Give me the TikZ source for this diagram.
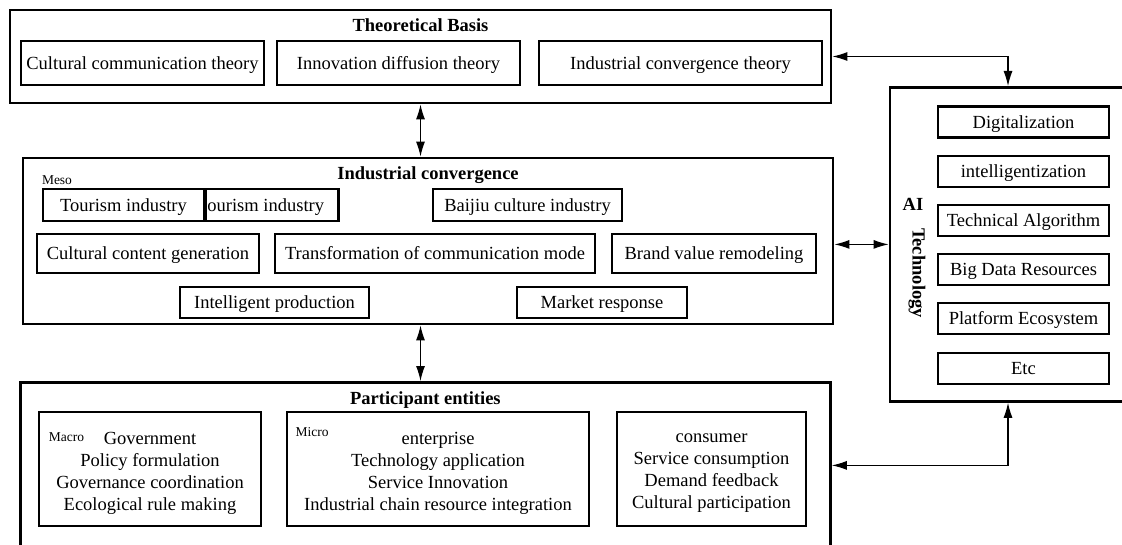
\documentclass[tikz,border=0pt]{standalone}
\usepackage{fontspec}
\setmainfont{Liberation Serif}
\usetikzlibrary{arrows.meta}

\begin{document}
\begin{tikzpicture}[auto, align=center, x=1pt, y=-1pt, >={Latex[length=15pt,width=9pt]}]

%local definitions
\tikzstyle{Frame} = [draw, line width=2.8pt, rectangle, inner sep=0pt]
\tikzstyle{Item} = [draw, fill=white, line width=2.8pt, rectangle, inner sep=2pt, text height=12.5pt, text depth=0.3pt, font=\fontsize{18.5}{22}\selectfont]
\tikzstyle{EntityBox} = [draw, line width=2.8pt, rectangle, minimum height=114pt]
\tikzstyle{EntityText} = [inner sep=0pt, font=\fontsize{18.5}{22}\selectfont]
\tikzstyle{Title} = [font=\fontsize{18.5}{22}\selectfont\bfseries, inner sep=0pt]
\tikzstyle{Level} = [font=\fontsize{13.5}{15}\selectfont, inner sep=0pt]
\tikzstyle{Link} = [<->, line width=1.1pt]

\useasboundingbox (0,0) rectangle (1122,545);
\clip (0,0) rectangle (1122,545);

%board components
	\node [Frame, minimum width=821pt, minimum height=93pt] (TheoryBasis) at (420.5,56.5) {};
	\node [Title, anchor=base] (TheoryTitle) at ([yshift=-22.5pt]TheoryBasis.north) {Theoretical Basis};
	\node [Item, minimum width=243pt, minimum height=44pt] (CommTheory) at (142.5,63) {Cultural communication theory};
	\node [Item, minimum width=243pt, minimum height=44pt] (DiffTheory) at (398.5,63) {Innovation diffusion theory};
	\node [Item, minimum width=283pt, minimum height=44pt] (ConvTheory) at (680.5,63) {Industrial convergence theory};

	\node [Frame, minimum width=810pt, minimum height=166pt] (Convergence) at (428,241) {};
	\node [Title, anchor=base] (ConvTitle) at ([yshift=-23pt]Convergence.north) {Industrial convergence};
	\node [Level] (MesoLabel) at (57,180) {Meso};
	\node [Item, anchor=west, text width=129pt, align=flush left, minimum height=32pt] (TourismB) at (204,205) {ourism industry};
	\node [Item, minimum width=161pt, minimum height=32pt] (TourismA) at (123.5,205) {Tourism industry};
	\node [Item, minimum width=189pt, minimum height=32pt] (Baijiu) at (527.5,205) {Baijiu culture industry};
	\node [Item, minimum width=222pt, minimum height=39pt] (ContentGen) at (148,253.5) {Cultural content generation};
	\node [Item, minimum width=320pt, minimum height=39pt] (CommMode) at (435,253.5) {Transformation of communication mode};
	\node [Item, minimum width=204pt, minimum height=39pt] (BrandValue) at (714,253.5) {Brand value remodeling};
	\node [Item, minimum width=189pt, minimum height=31pt] (IntProd) at (274.5,302.5) {Intelligent production};
	\node [Item, minimum width=170pt, minimum height=31pt] (MarketResp) at (602,302.5) {Market response};

	\node [Frame, anchor=north, minimum width=236pt, minimum height=314pt] (AITech) at (1008,86) {};
	\node [Title] (AILabel) at (913,204) {AI};
	\node [Title, rotate=-90] (TechLabel) at (917,273) {Technology};
	\node [Item, minimum width=171pt, minimum height=31pt] (Digital) at (1023.5,122) {Digitalization};
	\node [Item, minimum width=171pt, minimum height=31pt] (Intelligent) at (1023.5,171.5) {intelligentization};
	\node [Item, minimum width=171pt, minimum height=31pt] (Algorithm) at (1023.5,220.5) {Technical Algorithm};
	\node [Item, minimum width=171pt, minimum height=31pt] (BigData) at (1023.5,269.5) {Big Data Resources};
	\node [Item, minimum width=171pt, minimum height=31pt] (Platform) at (1023.5,318.5) {Platform Ecosystem};
	\node [Item, minimum width=171pt, minimum height=31pt] (Etc) at (1023.5,368.5) {Etc};

	\node [Frame, anchor=north west, minimum width=810pt, minimum height=166pt] (Participants) at (19,381) {};
	\node [Title, anchor=base] (PartTitle) at ([yshift=-23pt]Participants.north) {Participant entities};
	\node [EntityBox, minimum width=222pt] (MacroBox) at (150,469) {};
	\node [EntityBox, minimum width=302pt] (MicroBox) at (438,469) {};
	\node [EntityBox, minimum width=189pt] (ConsumerBox) at (711.5,469) {};
	\node [EntityText] (MacroText) at ([yshift=-4pt]MacroBox.center) {Government\\Policy formulation\\Governance coordination\\Ecological rule making};
	\node [EntityText] (MicroText) at ([yshift=-4pt]MicroBox.center) {enterprise\\Technology application\\Service Innovation\\Industrial chain resource integration};
	\node [EntityText] (ConsumerText) at ([yshift=-4pt]ConsumerBox.center) {consumer\\Service consumption\\Demand feedback\\Cultural participation};
	\node [Level] (MacroLabel) at (66.5,437) {Macro};
	\node [Level] (MicroLabel) at (312,432) {Micro};

%connections
	\draw [Link] (TheoryBasis.south) -- (TheoryBasis.south |- Convergence.north);
	\draw [Link] (Convergence.south -| TheoryBasis.south) -- (Participants.north -| TheoryBasis.south);
	\draw [Link] (TheoryBasis.east) -| (AITech.north);
	\draw [Link] (Convergence.east |- AITech.west) -- (AITech.west);
	\draw [Link] (Participants.east) -| (AITech.south);

\end{tikzpicture}
\end{document}
